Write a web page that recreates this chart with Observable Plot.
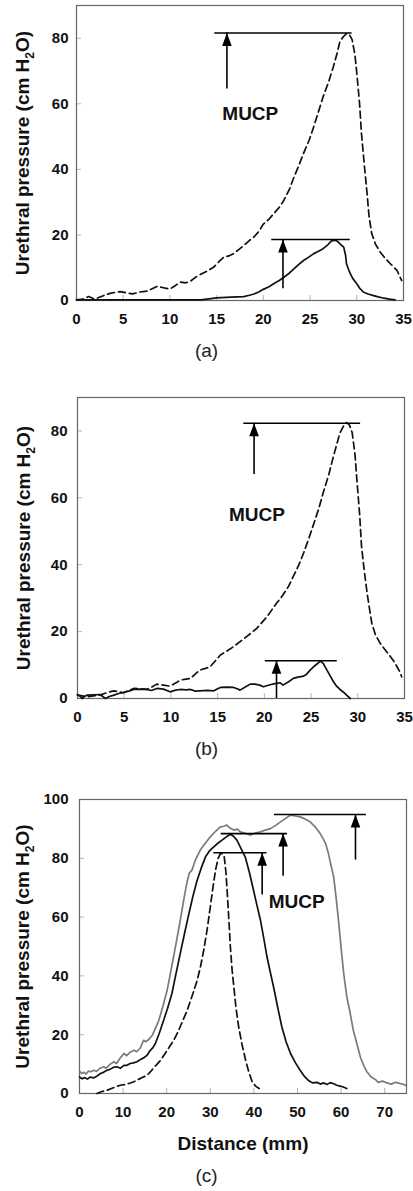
<!DOCTYPE html>
<html>
<head>
<meta charset="utf-8">
<script src="https://cdn.jsdelivr.net/npm/d3@7"></script>
<script src="https://cdn.jsdelivr.net/npm/@observablehq/plot@0.6"></script>
<style>
  body { margin: 0; background: #fff; }
  #page { position: relative; width: 413px; height: 1191px; font-family: "Liberation Sans", Arial, sans-serif; overflow: hidden; }
  .panel { position: absolute; left: 0; }
  .panel svg { overflow: visible; }
  .cap { position: absolute; left: 0; width: 413px; text-align: center; font-size: 19px; line-height: 19px; color: #222; }
</style>
</head>
<body>
<div id="page"></div>
<script>
// ---- Panel (a): distance (mm) vs urethral pressure (cm H2O)
const aDashed = [[0,0.2],[0.7,0.4],[1.3,1.2],[1.8,0.6],[2.2,0.7],[3,1.6],[3.6,2.2],[4.2,2.5],[4.7,2.7],[5.4,2.3],[6,2.0],[6.8,2.6],[7.6,2.9],[8.1,3.6],[8.6,4.3],[9.3,3.9],[10,3.5],[10.6,4.6],[11.1,5.6],[11.7,5.4],[12.2,5.9],[12.8,7.2],[13.3,8.0],[14,9.0],[14.7,10.2],[15.3,12.0],[15.8,13.3],[16.3,13.6],[16.8,14.3],[17.4,15.6],[17.9,16.8],[18.5,18.3],[19,19.4],[19.5,21.0],[20,23.3],[20.6,24.8],[21.1,26.5],[21.7,28.4],[22.2,30.6],[22.8,34.0],[23.3,37.8],[23.8,41.2],[24.3,44.9],[24.9,48.9],[25.4,53.1],[25.9,57.6],[26.4,62.2],[27,66.8],[27.5,71.4],[27.9,75.5],[28.2,79.1],[28.6,80.6],[28.9,81.4],[29.2,81.2],[29.5,79.6],[29.8,75.0],[30,69.4],[30.3,60.0],[30.5,51.0],[30.8,41.5],[31.1,32.7],[31.3,26.0],[31.6,20.4],[32,17.2],[32.5,14.8],[33,13.0],[33.6,11.2],[34.3,9.2],[34.8,6.1]];
const aSolid = [[0,0.2],[3,0.2],[6,0.2],[9,0.2],[12,0.2],[13.3,0.2],[14.2,0.5],[15,0.8],[16.5,1.0],[17.9,1.2],[18.5,1.6],[19,2.0],[19.5,2.6],[20,3.4],[20.6,4.2],[21.1,5.1],[21.7,6.1],[22.2,7.1],[22.8,8.4],[23.3,9.7],[23.8,11.0],[24.3,12.2],[24.9,13.3],[25.4,14.3],[25.9,15.0],[26.4,15.8],[26.9,17.0],[27.3,18.2],[27.7,18.4],[28,17.9],[28.2,17.3],[28.6,16.3],[28.8,13.8],[28.9,11.2],[29.1,9.6],[29.3,8.2],[29.6,6.6],[30,5.1],[30.3,3.8],[30.7,2.6],[31.2,2.0],[31.8,1.5],[32.3,1.1],[32.9,0.7],[33.5,0.4],[34.1,0.2]];
const aMucp = [
  {level: 81.6, from: 14.8, to: 29.5, arrowX: 16.1, arrowBase: 64.5},
  {level: 18.6, from: 20.9, to: 29.3, arrowX: 22.1, arrowBase: 3.6}
];
const aNote = {x: 18.6, y: 56.9};

// ---- Panel (b)
const bDashed = [[0,1.0],[0.5,0.8],[1,0.5],[1.7,0.8],[2.4,1.0],[3.2,1.8],[3.9,2.3],[4.4,2.0],[4.9,1.7],[5.5,2.4],[6,3.0],[6.7,2.9],[7.4,2.7],[8,3.5],[8.5,4.3],[9.2,4.0],[9.9,3.7],[10.5,4.6],[11,5.5],[11.6,5.8],[12.1,6.0],[12.6,7.3],[13.1,8.5],[13.7,9.0],[14.2,9.5],[14.8,11.4],[15.3,13.0],[16,14.2],[16.7,15.5],[17.4,17.0],[18.1,18.5],[18.6,19.6],[19.2,21.0],[19.7,22.6],[20.3,24.5],[20.8,26.5],[21.3,28.5],[21.7,29.8],[22,31.0],[22.6,33.6],[23.1,36.5],[23.7,40.0],[24.2,43.5],[24.7,47.4],[25.2,51.5],[25.8,56.6],[26.3,61.5],[26.9,67.0],[27.4,72.5],[27.8,76.5],[28.1,79.5],[28.5,81.6],[28.8,82.5],[29.1,81.8],[29.4,79.5],[29.7,73.0],[29.9,65.5],[30.2,55.0],[30.4,45.5],[30.7,38.0],[31,31.5],[31.3,26.0],[31.5,22.5],[31.9,19.0],[32.4,16.5],[33,14.3],[33.5,12.5],[33.9,11.0],[34.2,9.5],[34.5,8.0],[34.7,6.5]];
const bSolid = [[0,1.2],[0.3,0.6],[0.5,0],[0.8,0.7],[1,1.0],[1.7,1.1],[2.4,1.2],[2.7,0.6],[3,0],[3.4,0.6],[3.9,1.0],[4.4,1.5],[4.9,1.8],[5.5,2.2],[6,2.7],[6.7,2.8],[7.4,2.7],[7.9,2.4],[8.5,3.0],[9.2,2.8],[9.9,2.0],[10.5,2.5],[11,2.7],[11.6,2.6],[12.1,2.7],[12.6,2.2],[13.1,2.3],[13.9,2.4],[14.6,2.3],[15,2.9],[15.3,3.3],[16,3.4],[16.7,3.3],[17.1,2.9],[17.4,2.5],[18,3.5],[18.5,4.3],[19,4.3],[19.5,4.0],[19.9,3.5],[20.6,4.1],[21.3,4.5],[21.7,4.7],[22,4.0],[22.6,5.0],[23.1,6.0],[23.6,6.4],[24.2,6.7],[24.5,7.2],[24.9,8.5],[25.4,9.8],[25.8,10.7],[26,11.2],[26.3,10.5],[26.7,8.5],[27,7.0],[27.4,5.0],[27.7,3.8],[28.1,2.7],[28.5,1.8],[28.8,1.0],[29.2,0]];
const bMucp = [
  {level: 82.3, from: 17.8, to: 30.3, arrowX: 18.9, arrowBase: 67},
  {level: 11.3, from: 20.1, to: 27.8, arrowX: 21.3, arrowBase: 0}
];
const bNote = {x: 19.2, y: 55};

// ---- Panel (c)
const cGray = [[0,7.6],[0.5,6.8],[1,7.2],[1.5,6.6],[2,7.6],[2.6,7.4],[3.3,7.9],[3.9,7.5],[4.6,8.5],[5.6,9.1],[6.1,8.6],[7,9.9],[7.9,10.8],[8.5,10.2],[9.4,12.2],[10.2,13.6],[10.8,12.9],[11.6,14.0],[12.5,14.7],[13.1,14.2],[13.9,15.4],[14.7,18.1],[15.2,17.6],[15.9,18.4],[16.7,19.8],[17.2,21.5],[18.2,24.9],[19.1,29.5],[20.1,35.1],[21,42],[22,49.9],[23,58],[23.9,65.8],[24.6,71.5],[25.2,75],[25.8,76],[26.6,79.5],[27.7,82.8],[28.8,85],[30,87.3],[31.2,89.2],[32.3,90.7],[33.1,90.9],[33.8,91.3],[34.6,90.2],[35.4,89.6],[36.2,89.9],[36.9,89],[38,88.5],[39.2,87.9],[40.3,88.6],[41.5,89],[42.6,89.6],[43.8,90.1],[45,91.2],[46.1,92.4],[47.2,93.5],[48.4,94.7],[49.5,94.4],[50.6,94.1],[51.7,93.4],[52.9,92.4],[54,90.8],[55.2,88.4],[55.9,86.6],[56.5,84.8],[57.1,81.6],[57.7,77.5],[58.3,73.7],[58.9,66],[59.4,59],[60,49.5],[60.6,40.8],[61.3,33],[62.1,27.2],[62.8,21.5],[63.6,17],[64.5,12],[65.2,9.5],[65.9,7.4],[67,5.5],[68,4.6],[68.5,3.8],[69.5,4.2],[70.5,3.6],[71.5,3.2],[72.5,3.8],[73.5,3.4],[74.5,3.0],[75,2.6]];
const cBlack = [[0,5.6],[0.6,5.0],[1.2,5.4],[1.8,4.9],[2.5,5.6],[3.2,5.3],[4,5.9],[4.8,6.8],[5.5,7.2],[6.3,7.9],[7,8.2],[7.8,8.9],[8.6,9.1],[9.4,8.6],[10.2,9.6],[10.9,9.6],[11.6,10.2],[12.4,10.4],[13.2,10.8],[14,11.6],[14.8,12.2],[15.5,13.0],[16.2,14.6],[16.8,15.5],[17.4,17],[18.3,20.5],[19.3,24.9],[20.2,29],[21.2,34],[22.1,40.5],[23.1,47.6],[24.1,54.5],[25.1,61.2],[26,67],[27,72.6],[28,77],[28.9,80.5],[29.8,82.5],[30.8,83.9],[31.8,85.2],[32.7,86.2],[33.6,87.2],[34.6,88.2],[35.3,87.5],[36.1,86.2],[37,83.5],[38,80.5],[39,75],[39.9,69.2],[40.7,64],[41.5,59],[42.3,52.5],[43,46.5],[43.8,41],[44.5,36.3],[45.5,29],[46.4,22.7],[47.4,17.5],[48.4,13.6],[49.5,10.5],[50.6,7.9],[51.6,5.8],[52.6,4.3],[53.5,3.6],[54.5,3.8],[55.2,3.2],[56,3.6],[56.8,3.1],[57.5,3.7],[58.3,3.3],[59,2.8],[59.8,2.5],[60.5,2.2],[61.3,1.7]];
const cDashed = [[4,0],[5,0.6],[6.3,1.1],[7.5,1.8],[8.5,2.4],[9.4,2.8],[10.5,3.1],[11.5,3.5],[12.5,4.0],[13.5,4.8],[14.5,5.5],[15.5,6.2],[16.5,7.8],[17.5,9.5],[18.6,11.3],[19.6,13.5],[20.6,15.8],[21.6,18.1],[22.6,21],[23.7,24.8],[24.7,28.3],[25.9,33.5],[27,38.5],[27.8,43.5],[28.5,48.8],[29.3,56],[30,63.5],[30.6,70],[31.2,76],[31.8,80],[32.3,81.6],[32.8,81.6],[33.2,80.5],[33.6,75],[33.9,68],[34.3,58],[34.6,49.9],[35,42],[35.4,36.3],[35.9,29],[36.5,22.7],[37.3,16.5],[38.1,11.3],[38.8,7.5],[39.6,4.0],[40.4,2.5],[41.2,1.7]];
const cMucp = [
  {level: 81.9, from: 30.8, to: 43.0, arrowX: 41.9, arrowBase: 67.5},
  {level: 88.4, from: 32.5, to: 47.7, arrowX: 46.7, arrowBase: 73.9},
  {level: 94.9, from: 44.7, to: 65.8, arrowX: 63.3, arrowBase: 79.4}
];
const cNote = {x: 49.8, y: 65.2};

// ---- Axis ticks and texts
const ticks35 = [0, 5, 10, 15, 20, 25, 30, 35];
const ticks90 = [0, 20, 40, 60, 80];
const ticks75 = [0, 10, 20, 30, 40, 50, 60, 70];
const ticks100 = [0, 20, 40, 60, 80, 100];
const yTitle = "Urethral pressure (cm H2O)";
const xTitle = "Distance (mm)";
const noteText = "MUCP";
const captions = ["(a)", "(b)", "(c)"];

// Filled, narrow arrowhead whose tip sits on the anchor point
const arrowHead = {
  draw(context) {
    context.moveTo(0, 0);
    context.lineTo(-4.8, 13);
    context.lineTo(4.8, 13);
    context.closePath();
  }
};

const FONT = "'Liberation Sans', Arial, Helvetica, sans-serif";
const page = document.getElementById("page");

function drawPanel(p) {
  const width = 413;
  const frameW = width - p.marginLeft - p.marginRight;
  const frameH = p.height - p.marginTop - p.marginBottom;
  const marks = [
    Plot.tickX(p.xTicks, {x: d => d, stroke: "#b5b5b5", strokeWidth: 1, insetTop: frameH - 5}),
    Plot.tickY(p.yTicks, {y: d => d, stroke: "#b5b5b5", strokeWidth: 1, insetRight: frameW - 5}),
    Plot.axisX(p.xTicks, {tickSize: 0, tickPadding: 13, fontSize: 15, fontWeight: "bold", fill: "#111"}),
    Plot.axisY(p.yTicks, {tickSize: 0, tickPadding: p.yPad, fontSize: 15, fontWeight: "bold", fill: "#111"}),
    Plot.frame({stroke: "#666", strokeWidth: 1.2}),
    ...p.series.map(s => Plot.line(s.data, {
      x: d => d[0], y: d => d[1],
      stroke: s.color, strokeWidth: 1.7,
      strokeDasharray: s.dash, strokeLinejoin: "round"
    })),
    Plot.ruleY(p.mucp, {y: "level", x1: "from", x2: "to", stroke: "#000", strokeWidth: 1.6}),
    Plot.ruleX(p.mucp, {x: "arrowX", y1: "arrowBase", y2: "level", stroke: "#000", strokeWidth: 1.6}),
    Plot.dot(p.mucp, {x: "arrowX", y: "level", symbol: arrowHead, fill: "#000", stroke: "none"}),
    Plot.text([p.note], {x: "x", y: "y", text: () => noteText, fontSize: 19, fontWeight: "bold", fill: "#111"}),
    Plot.text([yTitle], {
      text: d => d, frameAnchor: "left", textAnchor: "middle", lineAnchor: "middle",
      rotate: -90, dx: p.yTitleX - p.marginLeft, fontSize: 19, fontWeight: "bold", fill: "#111"
    })
  ];
  if (p.xTitle) {
    marks.push(Plot.text([p.xTitle], {
      text: d => d, frameAnchor: "bottom", textAnchor: "middle", lineAnchor: "middle",
      dy: p.xTitleDy, fontSize: 19, fontWeight: "bold", fill: "#111"
    }));
  }
  const svg = Plot.plot({
    width, height: p.height,
    marginTop: p.marginTop, marginRight: p.marginRight,
    marginBottom: p.marginBottom, marginLeft: p.marginLeft,
    style: {fontFamily: FONT, background: "transparent", overflow: "visible"},
    x: {domain: p.xDomain, label: null},
    y: {domain: p.yDomain, label: null},
    marks
  });
  // Subscript the 2 of H2O in the pressure title
  svg.querySelectorAll("text").forEach(t => {
    if (t.textContent !== yTitle) return;
    t.textContent = "";
    const ns = "http://www.w3.org/2000/svg";
    const parts = [["Urethral pressure (cm H", null, null], ["2", "5", "12px"], ["O)", "-5", null]];
    for (const [str, dy, size] of parts) {
      const ts = document.createElementNS(ns, "tspan");
      ts.textContent = str;
      if (dy) ts.setAttribute("dy", dy);
      if (size) ts.setAttribute("font-size", size);
      t.appendChild(ts);
    }
  });
  const wrap = document.createElement("div");
  wrap.className = "panel";
  wrap.style.top = p.top + "px";
  wrap.appendChild(svg);
  page.appendChild(wrap);

  const cap = document.createElement("div");
  cap.className = "cap";
  cap.style.top = (p.captionY - 11) + "px";
  cap.style.left = (p.captionX - 206) + "px";
  cap.textContent = p.caption;
  page.appendChild(cap);
}

drawPanel({
  top: 0, height: 340, marginTop: 5, marginBottom: 40, marginLeft: 76, marginRight: 10,
  xDomain: [0, 35], yDomain: [0, 90], xTicks: ticks35, yTicks: ticks90, yPad: 8,
  series: [
    {data: aDashed, color: "#111", dash: "7,4"},
    {data: aSolid, color: "#111", dash: null}
  ],
  mucp: aMucp, note: aNote, yTitleX: 22,
  caption: captions[0], captionX: 206, captionY: 352
});

drawPanel({
  top: 387, height: 351, marginTop: 10, marginBottom: 40, marginLeft: 77, marginRight: 9,
  xDomain: [0, 35], yDomain: [0, 90], xTicks: ticks35, yTicks: ticks90, yPad: 10,
  series: [
    {data: bDashed, color: "#111", dash: "7,4"},
    {data: bSolid, color: "#111", dash: null}
  ],
  mucp: bMucp, note: bNote, yTitleX: 23,
  caption: captions[1], captionX: 206, captionY: 750
});

drawPanel({
  top: 789, height: 374, marginTop: 10, marginBottom: 70, marginLeft: 79, marginRight: 7,
  xDomain: [0, 75], yDomain: [0, 100], xTicks: ticks75, yTicks: ticks100, yPad: 11,
  series: [
    {data: cGray, color: "#7a7a7a", dash: null},
    {data: cBlack, color: "#111", dash: null},
    {data: cDashed, color: "#111", dash: "7,4"}
  ],
  mucp: cMucp, note: cNote, yTitleX: 22,
  xTitle: xTitle, xTitleDy: 50,
  caption: captions[2], captionX: 206, captionY: 1177
});
</script>
</body>
</html>
